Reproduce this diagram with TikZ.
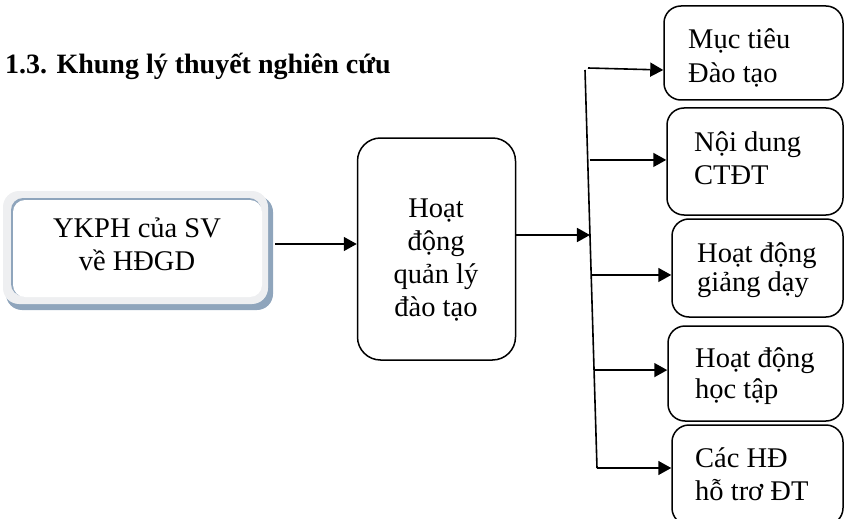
\documentclass[tikz,border=0pt]{standalone}
\usepackage{fontspec}
\setmainfont{Liberation Serif}
\usetikzlibrary{arrows.meta,calc}

\definecolor{frameblue}{RGB}{143,165,188}
\definecolor{framegray}{RGB}{238,239,241}

\tikzset{
  txt/.style={font=\fontsize{28.5}{#1}\selectfont, inner sep=0pt},
  txt/.default=33,
  box/.style={draw=black, line width=1.5pt, rounded corners=17pt, fill=white},
  arr/.style={line width=1.6pt, -{Triangle[length=13pt,width=14pt]}},
  trunk/.style={line width=1.6pt}
}

\begin{document}
\begin{tikzpicture}[x=1pt,y=-1pt]
  \useasboundingbox (0,0) rectangle (844,519);

  % heading
  \node[font=\fontsize{28}{33}\selectfont\bfseries, inner sep=0pt, anchor=base west]
    (title) at (5,74) {1.3. Khung lý thuyết nghiên cứu};

  % left framed box: shadow, light frame, inner edge
  \fill[frameblue, rounded corners=16pt] (6,196) rectangle (273,310);
  \fill[framegray, rounded corners=16pt] (3,191) rectangle (268,304);
  \fill[frameblue, rounded corners=12pt] (11,198) rectangle (261,296);
  \node[fill=white, rounded corners=12pt, minimum width=249pt, minimum height=97pt,
        inner sep=0pt] (ykph) at (137.5,248.5) {};
  \node[txt, align=center, anchor=base] (ykphtext) at (137,270) {YKPH của SV\\về HĐGD};

  % management box
  \node[box, rounded corners=23pt, minimum width=158pt, minimum height=222pt]
    (mid) at (436.5,249) {};
  \node[txt, align=center, anchor=base] (midtext) at (436,316)
    {Hoạt\\động\\quản lý\\đào tạo};

  % right-hand boxes
  \node[box, minimum width=179pt, minimum height=94pt]  (b1) at (753.5,53) {};
  \node[box, minimum width=176pt, minimum height=107pt] (b2) at (755,161.5) {};
  \node[box, minimum width=171pt, minimum height=98pt]  (b3) at (757.5,268) {};
  \node[box, minimum width=175pt, minimum height=95pt]  (b4) at (755.5,373.5) {};
  \node[box, minimum width=171pt, minimum height=100pt] (b5) at (757.5,475) {};

  % box texts, placed by the baseline of their last line
  \node[txt=34, align=left, anchor=base west] (t1) at (688,82)  {Mục tiêu\\Đào tạo};
  \node[txt=33, align=left, anchor=base west] (t2) at (694,184) {Nội dung\\CTĐT};
  \node[txt=29, align=left, anchor=base west] (t3) at (697,291) {Hoạt động\\giảng dạy};
  \node[txt=31, align=left, anchor=base west] (t4) at (695,398) {Hoạt động\\học tập};
  \node[txt=33, align=left, anchor=base west] (t5) at (695,500) {Các HĐ\\hỗ trơ ĐT};

  % distribution line
  \coordinate (tt) at (585,70);
  \coordinate (tb) at (597,468);
  \draw[trunk] (tt) -- (tb);

  \coordinate (p0) at ($(tt)!0.415!(tb)$);
  \coordinate (p1) at ($(tt)!0.0!(tb)$);
  \coordinate (p2) at ($(tt)!0.226!(tb)$);
  \coordinate (p3) at ($(tt)!0.515!(tb)$);
  \coordinate (p4) at ($(tt)!0.754!(tb)$);
  \coordinate (p5) at ($(tt)!1.0!(tb)$);

  % connectors
  \coordinate (ain) at (275,244);
  \draw[arr] (ain) -- (ain -| mid.west);
  \coordinate (aout) at (mid.east |- 0,235);
  \draw[arr] (aout) -- (aout -| p0);
  \draw[arr] ($(p1)+(3,-2)$) -- (p1 -| b1.west);
  \draw[arr] ($(p2)+(2,0)$) -- (p2 -| b2.west);
  \draw[arr] (p3) -- (p3 -| b3.west);
  \draw[arr] (p4) -- (p4 -| b4.west);
  \draw[arr] (p5) -- (p5 -| b5.west);
\end{tikzpicture}
\end{document}
